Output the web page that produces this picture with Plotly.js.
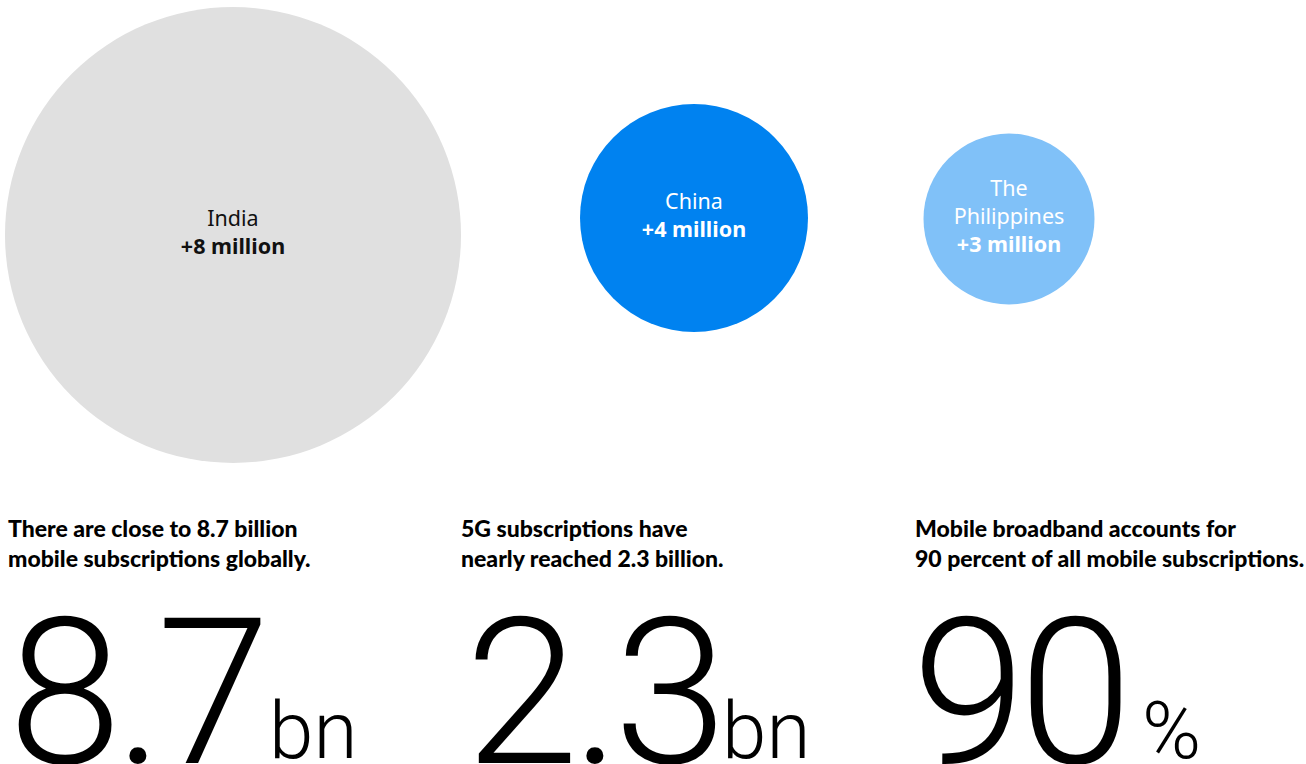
<!DOCTYPE html>
<html><head><meta charset="utf-8">
<script src="https://cdn.plot.ly/plotly-3.0.1.min.js"></script>
<style>html,body{margin:0;padding:0;background:#fff;overflow:hidden}</style>
</head><body><div id="chart" style="width:1306px;height:764px"></div>
<script>
// ---- data ----
const countries = ['India', 'China', 'The Philippines'];
const countryLabels = ['India', 'China', 'The<br>Philippines'];
const growthMillions = [8, 4, 3];
const growthLabels = ['+8 million', '+4 million', '+3 million'];
const statHeadings = [
  'There are close to 8.7 billion<br>mobile subscriptions globally.',
  '5G subscriptions have<br>nearly reached 2.3 billion.',
  'Mobile broadband accounts for<br>90 percent of all mobile subscriptions.'
];
const statValues = ['8.7', '2.3', '90'];
const statUnits = ['bn', 'bn', '%'];

// ---- styles / layout ----
const W = 1306, H = 764;
const bubbleColors = ['#e0e0e0', '#0082f0', '#80c1f8'];
const textColors = ['#111111', '#ffffff', '#ffffff'];
const centersX = [233, 694, 1009];   // px
const centersY = [235, 218, 219];    // px from top
const maxDiameter = 456;
const columnLeft = [6, 459, 913];
const bigLeft = [6, 463, 910];
const unitLeft = [267, 720, 1140];

const sizeref = Math.max(...growthMillions) / maxDiameter;
const traces = [];
const layout = {
  width: W, height: H, margin: {l:0, r:0, t:0, b:0},
  paper_bgcolor: '#fff', plot_bgcolor: 'rgba(0,0,0,0)',
  showlegend: false, annotations: [],
  font: {family: 'Lato, "Noto Sans", sans-serif'}
};
countries.forEach((c, i) => {
  const sfx = i === 0 ? '' : String(i + 1);
  traces.push({
    type: 'scatter', mode: 'markers+text',
    x: [c], y: [0],
    xaxis: 'x' + sfx, yaxis: 'y' + sfx,
    marker: {size: [growthMillions[i]], sizemode: 'diameter', sizeref: sizeref,
             color: bubbleColors[i], opacity: 1, line: {width: 0}},
    text: [countryLabels[i] + '<br><b>' + growthLabels[i] + '</b>'],
    textposition: 'middle center',
    textfont: {family: '"Noto Sans", Lato, sans-serif', size: 21.5, color: textColors[i]},
    hoverinfo: 'skip', cliponaxis: false
  });
  const cx = centersX[i] / W, cy = 1 - centersY[i] / H;
  layout['xaxis' + sfx] = {domain: [cx - 0.05, cx + 0.05], type: 'category', range: [-1, 1],
    visible: false, fixedrange: true, anchor: 'y' + sfx};
  layout['yaxis' + sfx] = {domain: [cy - 0.05, cy + 0.05], range: [-1, 1],
    visible: false, fixedrange: true, anchor: 'x' + sfx};

  layout.annotations.push({
    xref: 'paper', yref: 'paper', x: columnLeft[i] / W, y: 1 - 512 / H,
    xanchor: 'left', yanchor: 'top', align: 'left', showarrow: false,
    text: statHeadings[i],
    font: {family: 'Lato, "Noto Sans", sans-serif', size: 23, weight: 900, color: '#000'}
  });
  layout.annotations.push({
    xref: 'paper', yref: 'paper', x: bigLeft[i] / W, y: 1 - 571 / H,
    xanchor: 'left', yanchor: 'top', align: 'left', showarrow: false,
    text: '<span style="letter-spacing:-7px">' + statValues[i] + '</span>',
    font: {family: 'Roboto', size: 205, weight: 300, color: '#000'}
  });
  layout.annotations.push({
    xref: 'paper', yref: 'paper', x: unitLeft[i] / W, y: 1 - 682 / H,
    xanchor: 'left', yanchor: 'top', align: 'left', showarrow: false,
    text: statUnits[i],
    font: {family: 'Roboto', size: 80, weight: 300, color: '#000'}
  });
});

Plotly.newPlot('chart', traces, layout, {displayModeBar: false, staticPlot: true});
</script></body></html>
